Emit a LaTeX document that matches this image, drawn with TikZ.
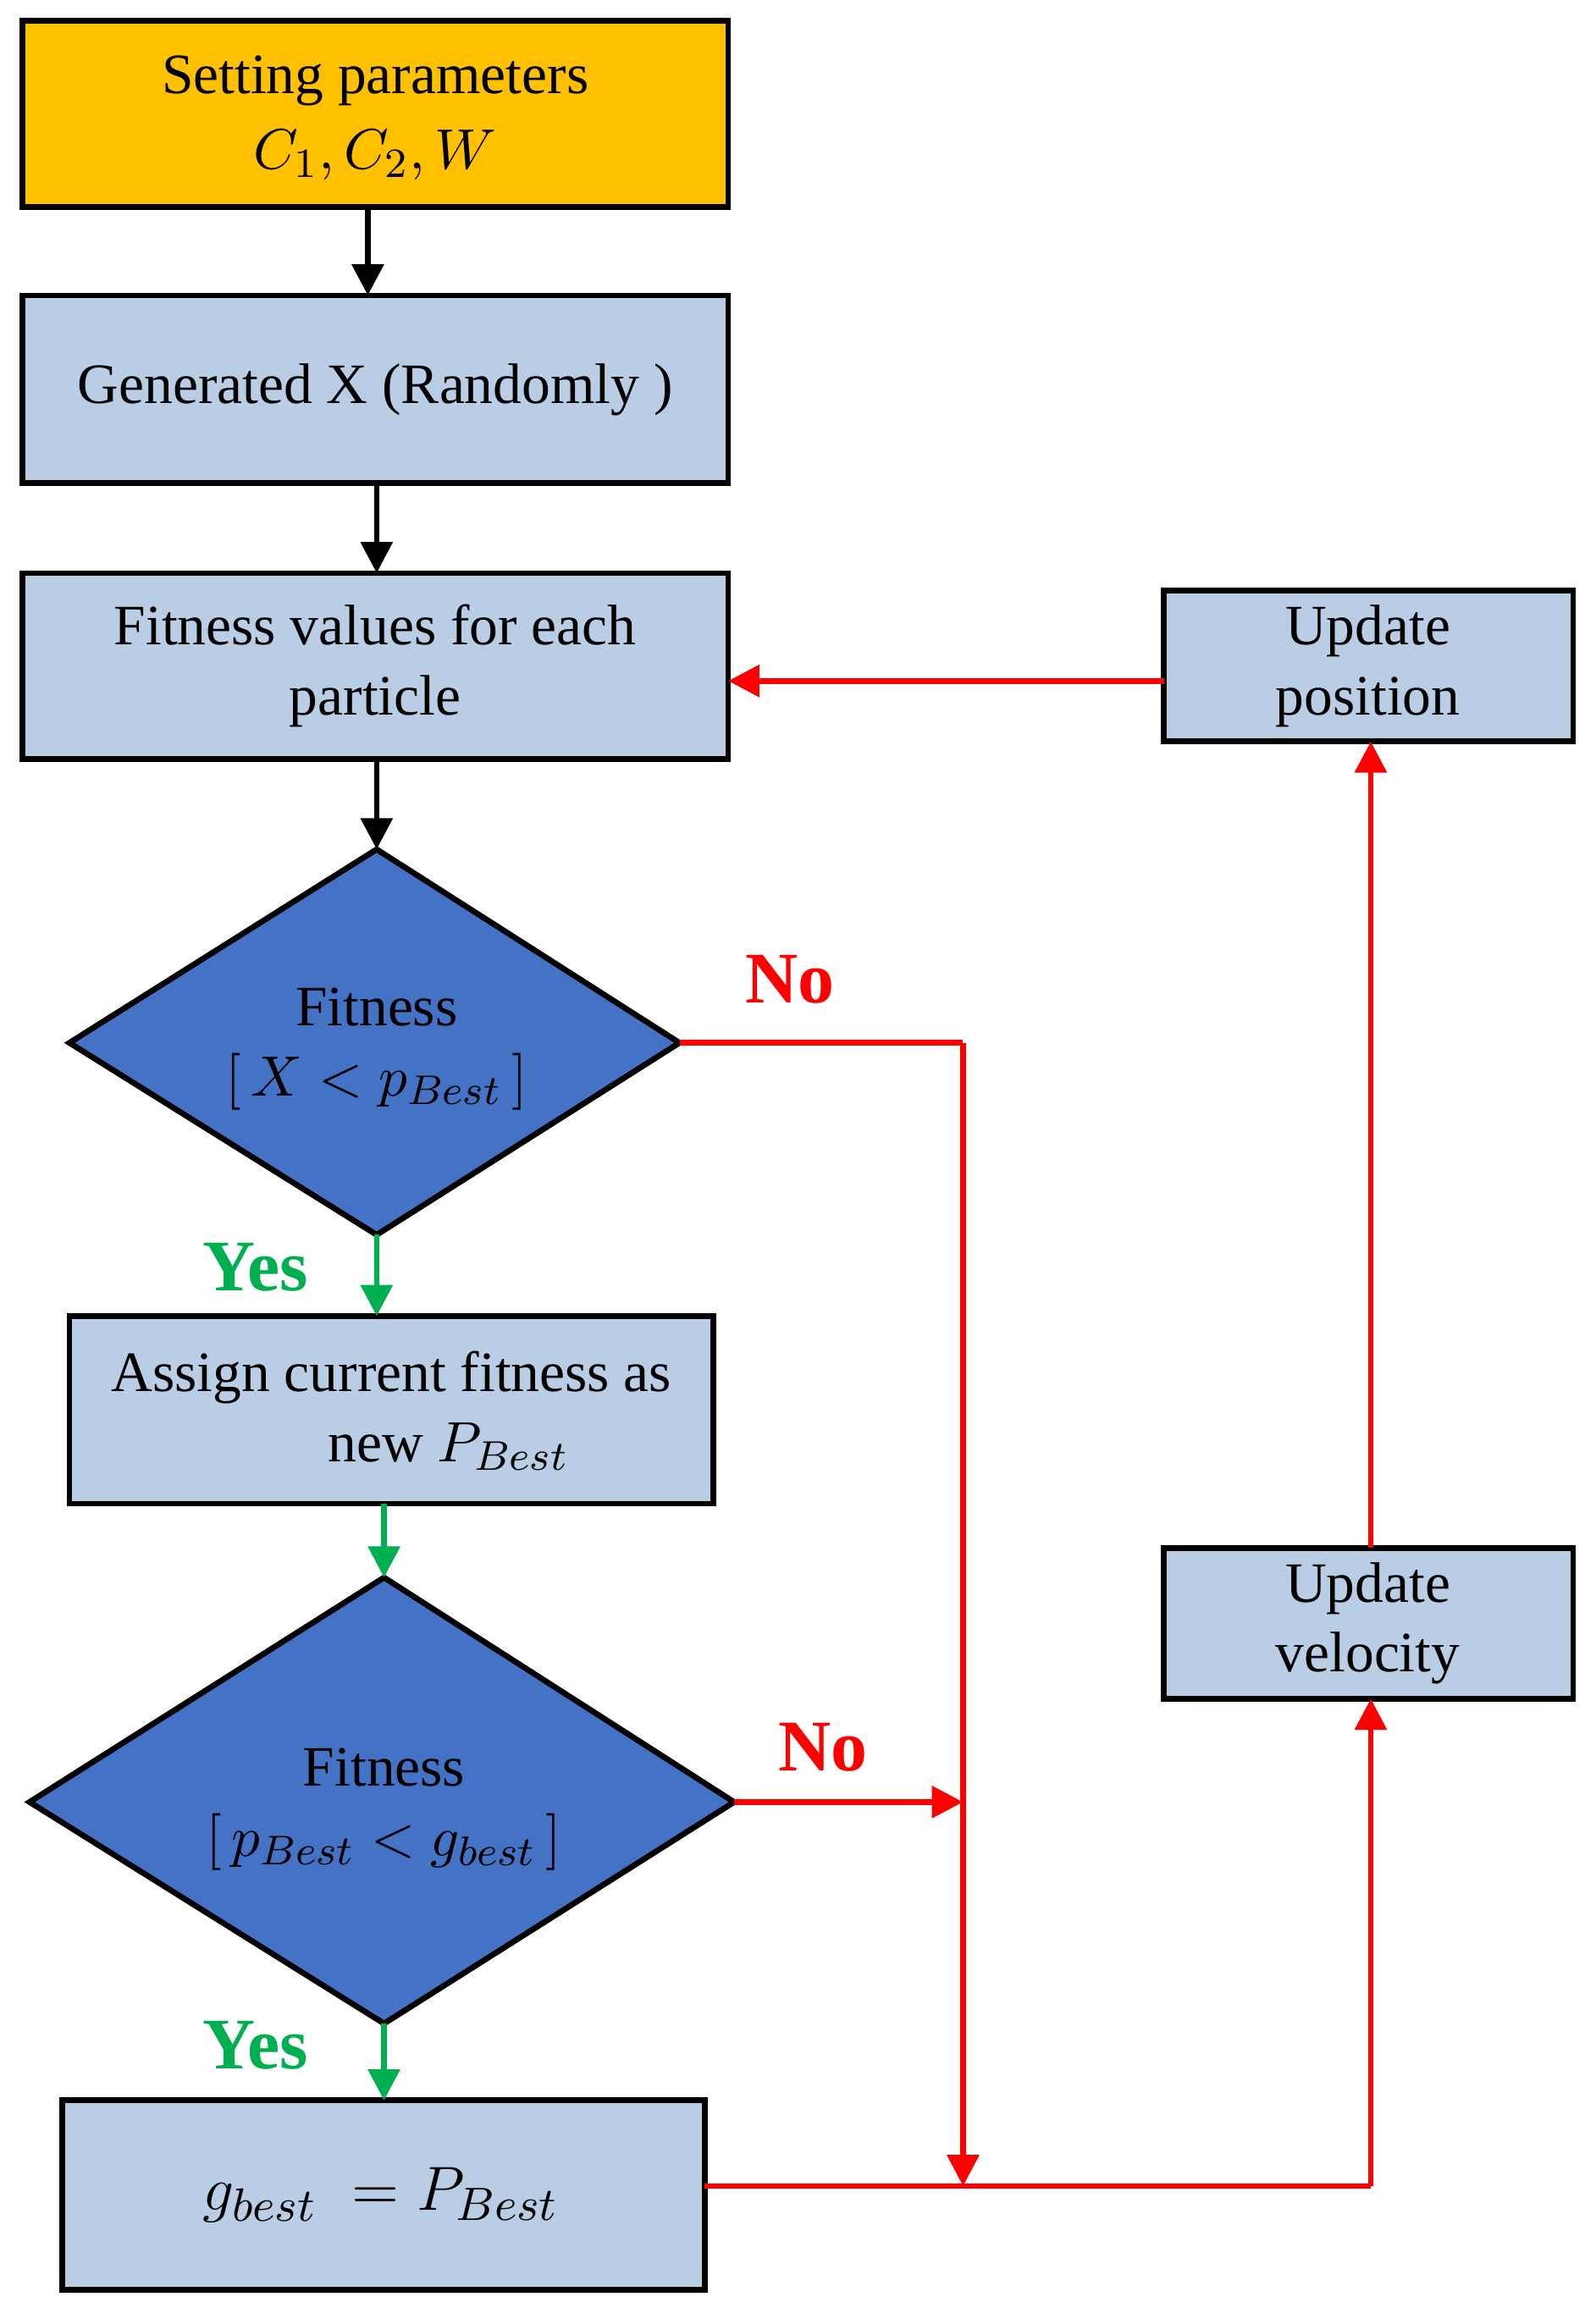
\documentclass[tikz,border=0pt]{standalone}
\usepackage{fontspec}
\setmainfont{Liberation Serif}
\usetikzlibrary{arrows.meta}
\definecolor{lb}{HTML}{B9CDE5}
\definecolor{db}{HTML}{4472C4}
\definecolor{org}{HTML}{FFC000}
\definecolor{gr}{HTML}{00B050}
\begin{document}
\begin{tikzpicture}[x=0.01cm,y=-0.01cm,
 box/.style={draw=black,line width=1.1pt,fill=lb},
 lbl/.style={font=\fontsize{11}{13.5}\selectfont,align=center},
 blk/.style={line width=1.1pt,-{Triangle[length=6pt,width=6pt]}},
 red/.style={draw=red,line width=1.1pt},
 redA/.style={red,-{Triangle[length=6pt,width=6pt]}},
 grn/.style={draw=gr,line width=1.1pt,-{Triangle[length=6pt,width=6pt]}},
 yn/.style={font=\fontsize{14}{16}\selectfont\bfseries}]
\useasboundingbox (0,0) rectangle (1080,1570);
\draw[box,fill=org] (15,14) rectangle (493,140);
\node[lbl] (b1) at (254,80) {Setting parameters\\[1pt] $C_1,C_2,W$};
\draw[box] (15,200) rectangle (493,327);
\node[lbl] (b2) at (254,264) {Generated X (Randomly )};
\draw[box] (15,388) rectangle (493,514);
\node[lbl] (b3) at (254,451) {Fitness values for each\\particle};
\draw[box,fill=db] (47,706)--(255,575)--(460,706)--(255,836)--cycle;
\node[lbl] (d1) at (255,710) {Fitness\\$\bigl[\,X<p_{Best}\,\bigr]$};
\draw[box] (47,891) rectangle (483,1018);
\node[lbl] (b4) at (265,955) {Assign current fitness as\\\hspace*{2em}new $P_{Best}$};
\draw[box,fill=db] (20,1220)--(260,1068)--(497,1220)--(260,1370)--cycle;
\node[lbl] (d2) at (260,1225) {Fitness\\$\bigl[\,p_{Best}<g_{best}\,\bigr]$};
\draw[box] (42,1422) rectangle (477,1550);
\node[lbl,font=\fontsize{13}{15}\selectfont] (b5) at (258,1486) {$g_{best}\;=P_{Best}$};
\draw[box] (788,400) rectangle (1065,502);
\node[lbl] (up) at (926,451) {Update\\position};
\draw[box] (788,1048) rectangle (1065,1150);
\node[lbl] (uv) at (926,1099) {Update\\velocity};
\coordinate (j1) at (652,706); \coordinate (j2) at (652,1480);
\coordinate (j3) at (928,1480); \coordinate (j4) at (652,1220);
\draw[blk] (249,140)--(249,200);
\draw[blk] (255,327)--(255,388);
\draw[blk] (255,514)--(255,575);
\draw[grn] (255,836)--(255,891);
\draw[grn] (260,1018)--(260,1068);
\draw[grn] (260,1370)--(260,1422);
\draw[red] (460,706)--(j1);
\draw[redA] (j1)--(j2);
\draw[redA] (497,1220)--(j4);
\draw[red] (477,1480)--(j3);
\draw[redA] (j3)--(928,1150);
\draw[redA] (928,1048)--(928,502);
\draw[redA] (788,461)--(493,461);
\node[yn,text=red] (n1) at (535,663) {No};
\node[yn,text=red] (n2) at (557,1183) {No};
\node[yn,text=gr] (y1) at (173,858) {Yes};
\node[yn,text=gr] (y2) at (173,1385) {Yes};
\end{tikzpicture}
\end{document}
